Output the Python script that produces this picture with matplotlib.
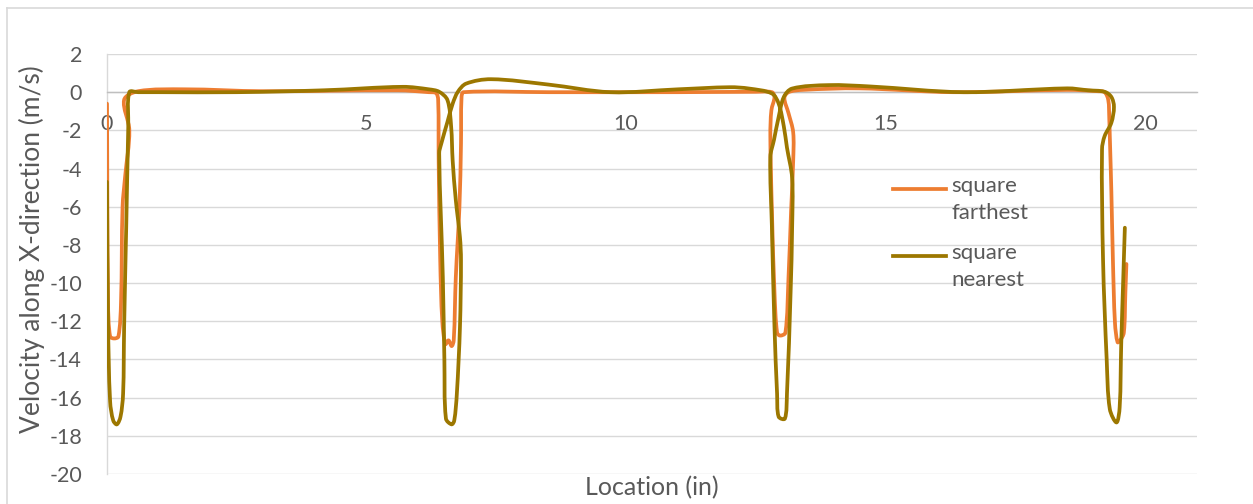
import numpy as np
import matplotlib
matplotlib.use("Agg")
import matplotlib.pyplot as plt
from matplotlib.path import Path
from matplotlib.patches import PathPatch
from matplotlib.lines import Line2D

# ---- data: velocity along X vs location, two probe positions ----
far_x = [0.00, 0.02, 0.06, 0.14, 0.22, 0.27, 0.30, 0.35, 0.43, 0.33, 0.60, 1.50, 3.00,
         5.60, 6.20, 6.34, 6.38, 6.39, 6.42, 6.46, 6.52, 6.58, 6.64, 6.68, 6.72, 6.79,
         6.82, 6.83, 6.87, 8.50, 11.00, 12.50, 12.81, 12.86, 12.80, 12.78, 12.81, 12.86,
         12.91, 12.97, 13.07, 13.13, 13.18, 13.22, 13.22, 13.13, 13.05, 13.13, 13.40,
         14.50, 16.30, 18.50, 19.10, 19.22, 19.29, 19.31, 19.32, 19.35, 19.38, 19.42,
         19.47, 19.52, 19.59, 19.62, 19.64]
far_y = [-0.6, -11.0, -12.8, -12.9, -12.8, -11.0, -6.0, -4.4, -2.0, -0.4, 0.05, 0.15, 0.05,
         0.10, 0.00, -0.05, -0.4, -3.6, -8.8, -12.0, -13.2, -13.0, -13.3, -13.0, -9.7, -6.0,
         -2.7, -0.3, 0.0, 0.0, 0.0, 0.02, 0.0, -0.25, -0.95, -2.3, -6.2, -10.5,
         -12.6, -12.75, -12.6, -9.7, -6.2, -3.6, -2.1, -1.1, -0.3, 0.0, 0.12,
         0.20, 0.00, 0.12, 0.05, 0.0, -0.4, -1.4, -2.3, -5.2, -8.8, -12.1,
         -13.1, -13.0, -12.6, -10.5, -9.0]

near_x = [0.00, 0.02, 0.06, 0.12, 0.19, 0.26, 0.31, 0.33, 0.37, 0.41, 0.43, 0.60, 1.00,
          2.50, 4.20, 5.70, 6.20, 6.40, 6.56, 6.63, 6.66, 6.72, 6.80, 6.82, 6.80, 6.74,
          6.69, 6.64, 6.53, 6.50, 6.47, 6.40, 6.44, 6.56, 6.66, 6.76, 6.92, 7.40, 8.50,
          9.70, 11.00, 12.00, 12.37, 12.81, 12.94, 13.04, 13.10, 13.20, 13.20, 13.17,
          13.10, 13.06, 12.94, 12.91, 12.86, 12.81, 12.78, 12.85, 12.94, 13.04, 13.20,
          13.90, 14.70, 16.50, 18.50, 18.90, 19.22, 19.35, 19.40, 19.35, 19.22, 19.17,
          19.19, 19.26, 19.32, 19.45, 19.51, 19.54, 19.58, 19.61]
near_y = [-4.7, -12.0, -16.2, -17.2, -17.4, -17.0, -15.8, -12.3, -7.1, -1.8, 0.0, 0.0, 0.0,
          0.0, 0.10, 0.28, 0.15, 0.02, -0.42, -1.8, -3.6, -5.65, -7.6, -8.8, -12.3, -15.8,
          -17.2, -17.4, -17.1, -14.0, -9.7, -3.2, -2.7, -1.55, -0.6, 0.02, 0.45, 0.68, 0.40,
          0.00, 0.15, 0.26, 0.19, -0.07, -0.6, -1.8, -2.9, -4.5, -7.05, -10.5,
          -15.8, -17.1, -17.0, -15.8, -12.3, -7.05, -3.4, -2.5, -1.3, -0.25, 0.19,
          0.37, 0.30, 0.00, 0.20, 0.10, 0.02, -0.25, -0.77, -1.6, -2.3, -3.0,
          -8.8, -14.0, -16.6, -17.3, -16.5, -13.2, -9.7, -7.1]

x_ticks = [0, 5, 10, 15, 20]
y_ticks = list(range(-20, 3, 2))
series_names = ["square\nfarthest", "square\nnearest"]
series_colors = ["#ED7D31", "#9C7700"]

W, H = 1253, 504
plt.rcParams["font.family"] = ["Lato", "DejaVu Sans"]
text_color = "#595959"

fig = plt.figure(figsize=(W / 100, H / 100), dpi=100)
ax = fig.add_axes([107 / W, 1 - 474 / H, (1197 - 107) / W, (474 - 54) / H])
ax.set_xlim(0, 21)
ax.set_ylim(-20, 2)


def smooth_path(xs, ys):
    """Smoothed polyline through the points (cubic Bezier, chord-length tangents)."""
    pts = np.column_stack([xs, ys]).astype(float)
    disp = ax.transData.transform(pts)
    seg = np.hypot(*np.diff(disp, axis=0).T)
    n = len(pts)
    tang = np.zeros_like(pts)
    for i in range(n):
        a, b = max(i - 1, 0), min(i + 1, n - 1)
        tang[i] = (pts[b] - pts[a]) / seg[a:b].sum()
    verts = [pts[0]]
    codes = [Path.MOVETO]
    for i in range(n - 1):
        verts += [pts[i] + tang[i] * seg[i] / 3,
                  pts[i + 1] - tang[i + 1] * seg[i] / 3,
                  pts[i + 1]]
        codes += [Path.CURVE4] * 3
    return Path(verts, codes)


for xs, ys, col in [(far_x, far_y, series_colors[0]), (near_x, near_y, series_colors[1])]:
    ax.add_patch(PathPatch(smooth_path(xs, ys), facecolor="none", edgecolor=col,
                           lw=2.7, capstyle="round", joinstyle="round", zorder=3))

# axes styling
ax.set_yticks(y_ticks)
ax.set_xticks(x_ticks)
ax.grid(axis="y", color="#d9d9d9", lw=1.0)
ax.grid(axis="x", visible=False)
ax.set_axisbelow(True)
for s in ["top", "right"]:
    ax.spines[s].set_visible(False)
ax.spines["left"].set_color("#d9d9d9")
ax.spines["left"].set_linewidth(1.0)
ax.spines["bottom"].set_position(("data", 0))
ax.spines["bottom"].set_color("#bfbfbf")
ax.spines["bottom"].set_linewidth(1.0)
ax.tick_params(axis="y", length=0, pad=18, labelsize=15.5, labelcolor=text_color)
ax.tick_params(axis="x", length=0, pad=16, labelsize=15.5, labelcolor=text_color)
ax.set_yticklabels([str(v) for v in y_ticks])

# axis titles
fig.text(32 / W, 1 - 249 / H, "Velocity along X-direction (m/s)", rotation=90,
         ha="center", va="center", fontsize=19, color=text_color)
fig.text(652 / W, 1 - 488 / H, "Location (in)", ha="center", va="center",
         fontsize=18, color=text_color)

# legend
for (name, col, ly) in zip(series_names, series_colors, [189, 256]):
    fig.add_artist(Line2D([893 / W, 946 / W], [1 - ly / H, 1 - ly / H],
                          color=col, lw=2.7, transform=fig.transFigure))
    fig.text(951 / W, 1 - (ly - 13) / H, name, ha="left", va="top", fontsize=16,
             color=text_color, linespacing=1.45)

# chart-area border
fig.add_artist(Line2D([7 / W, 1.0], [1 - 8 / H, 1 - 8 / H], color="#d9d9d9", lw=1.2,
                      transform=fig.transFigure))
fig.add_artist(Line2D([7 / W, 7 / W], [1 - 8 / H, 0.0], color="#d9d9d9", lw=1.2,
                      transform=fig.transFigure))

fig.savefig("out.png", dpi=100)
